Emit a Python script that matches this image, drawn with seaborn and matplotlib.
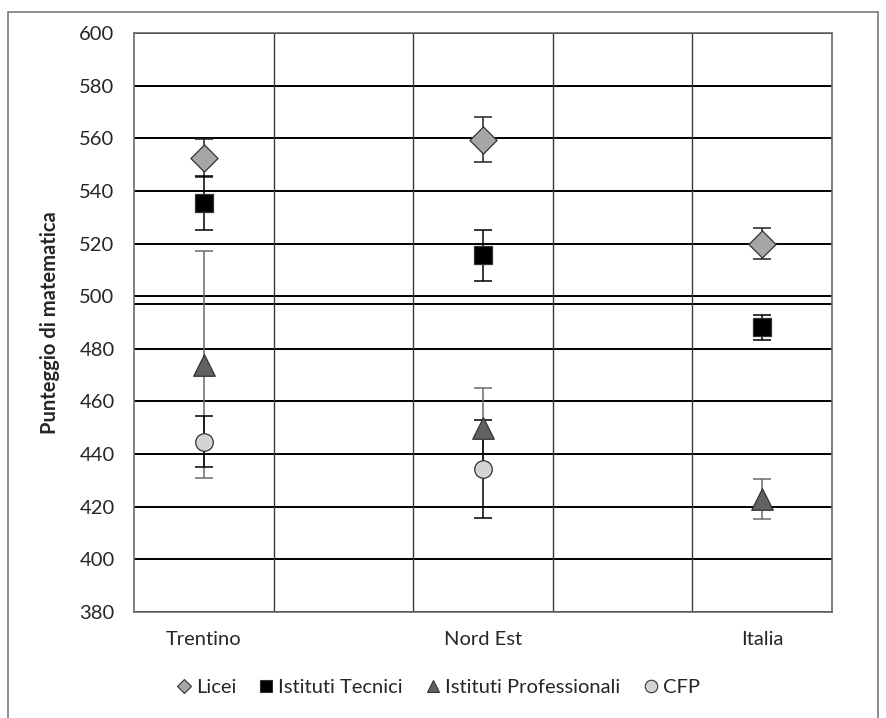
import matplotlib
matplotlib.use("Agg")
import matplotlib.pyplot as plt
import seaborn as sns
import pandas as pd
from matplotlib.lines import Line2D
from matplotlib.patches import Rectangle

# ---- data ----
regions = ["Trentino", "Nord Est", "Italia"]
series = ["Licei", "Istituti Tecnici", "Istituti Professionali", "CFP"]
licei = [552.5, 559.5, 520.0]
licei_err = [7.2, 8.7, 6.0]
tecnici = [535.5, 515.5, 488.2]
tecnici_err = [10.3, 9.7, 4.8]
professionali = [474.0, 450.0, 423.0]
professionali_err = [43.0, 15.2, 7.6]
cfp = [444.7, 434.3, 436.0]
cfp_err = [9.7, 18.7, 0.0]
cfp_present = [True, True, False]
reference_line = 497
yticks = list(range(380, 601, 20))

values = {"Licei": licei, "Istituti Tecnici": tecnici,
          "Istituti Professionali": professionali, "CFP": cfp}
errors = {"Licei": licei_err, "Istituti Tecnici": tecnici_err,
          "Istituti Professionali": professionali_err, "CFP": cfp_err}

# category slots: 5 slots, regions in slots 0, 2, 4
slot = {"Trentino": 0, "Nord Est": 2, "Italia": 4}

rows = []
for s in series:
    for i, r in enumerate(regions):
        if s == "CFP" and not cfp_present[i]:
            continue
        rows.append({"region": r, "x": slot[r], "series": s,
                     "score": values[s][i], "err": errors[s][i]})
df = pd.DataFrame(rows)

# ---- style ----
sns.set_theme(style="white")
plt.rcParams["font.family"] = ["Lato", "DejaVu Sans"]
FS = 14.5

fig = plt.figure(figsize=(8.86, 7.18), dpi=100)
ax = fig.add_axes([134 / 886, (718 - 612) / 718, 698 / 886, 579 / 718])

face = {"Licei": "#a6a6a6", "Istituti Tecnici": "#000000",
        "Istituti Professionali": "#626262", "CFP": "#d4d4d4"}
mk = {"Licei": "D", "Istituti Tecnici": "s",
      "Istituti Professionali": "^", "CFP": "o"}
size = {"Licei": 190, "Istituti Tecnici": 150,
        "Istituti Professionali": 240, "CFP": 160}
ecol = {"Licei": "#202020", "Istituti Tecnici": "#000000",
        "Istituti Professionali": "#6a6a6a", "CFP": "#000000"}

# grid
for y in yticks:
    ax.axhline(y, color="black", lw=1.4, zorder=1)
ax.axhline(reference_line, color="black", lw=1.4, zorder=1)
for xv in [0.5, 1.5, 2.5, 3.5]:
    ax.axvline(xv, color="#3a3a3a", lw=1.0, zorder=1)

# error bars
for s in series:
    d = df[df["series"] == s]
    ax.errorbar(d["x"], d["score"], yerr=d["err"], fmt="none",
                ecolor=ecol[s], elinewidth=1.1, capsize=6.5,
                capthick=1.1, zorder=2)

# markers
for s in series:
    d = df[df["series"] == s]
    sns.scatterplot(data=d, x="x", y="score", ax=ax, marker=mk[s],
                    s=size[s], color=face[s], edgecolor="#333333",
                    linewidth=0.9, zorder=3, legend=False)

ax.set_xlim(-0.5, 4.5)
ax.set_ylim(380, 600)
ax.set_yticks(yticks)
ax.set_yticklabels([str(v) for v in yticks], fontsize=FS)
ax.set_xticks([slot[r] for r in regions])
ax.set_xticklabels(regions, fontsize=FS)
ax.tick_params(axis="x", length=0, pad=14)
ax.tick_params(axis="y", length=0, pad=14)
ax.set_xlabel("")
ax.set_ylabel("Punteggio di matematica", fontsize=FS, fontweight="bold",
              labelpad=14)
for sp in ax.spines.values():
    sp.set_color("#6a6a6a")
    sp.set_linewidth(1.2)

# legend
handles = [Line2D([], [], linestyle="none", marker=mk[s], markersize=ms,
                  markerfacecolor=face[s], markeredgecolor="#333333",
                  markeredgewidth=0.8, label=s)
           for s, ms in zip(series, [7, 8, 9, 9])]
fig.legend(handles=handles, loc="center", bbox_to_anchor=(0.493, 0.042),
           ncol=4, frameon=False, fontsize=FS, handletextpad=0.1,
           columnspacing=1.0, handlelength=1.0)

# chart border
fig.patches.append(Rectangle((8 / 886, -0.02), 870 / 886, (718 - 12) / 718 + 0.02,
                             transform=fig.transFigure, fill=False,
                             edgecolor="#7a7a7a", lw=1.2))

fig.savefig("out.png", dpi=100)
